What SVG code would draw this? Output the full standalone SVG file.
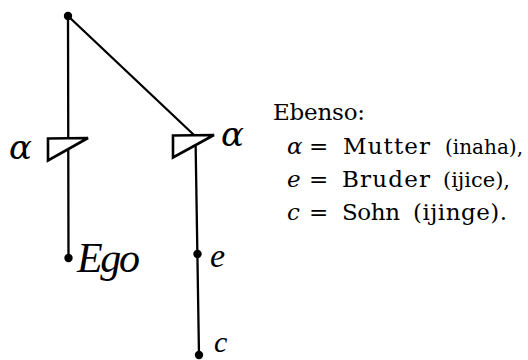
<svg xmlns="http://www.w3.org/2000/svg" width="528" height="360" viewBox="0 0 528 360">
<style>
.ln{stroke:#000;stroke-width:2.3;fill:none;stroke-linecap:round}
.flag{fill:#fff;stroke:#000;stroke-width:2.6;stroke-linejoin:miter}
.dot{fill:#000}
.sym{font-family:"DejaVu Serif","Liberation Serif",serif;font-style:italic;fill:#000}
.scr{font-family:"Liberation Serif","DejaVu Serif",serif;font-style:italic;fill:#000}
.txt{font-family:"DejaVu Serif","Liberation Serif",serif;font-size:23px;fill:#000}
.var{font-style:italic}
</style>
<rect width="528" height="360" fill="#fff"/>
<g id="connectors">
<line class="ln" x1="68" y1="16" x2="68.5" y2="258"/>
<line class="ln" x1="68" y1="16" x2="194" y2="135"/>
<line class="ln" x1="195.5" y1="137" x2="199" y2="355"/>
</g>
<g id="node-top"><circle class="dot" cx="68" cy="16" r="4.2"/></g>
<g id="node-mother-left">
<polygon class="flag" points="48,138.5 88,138 48,160.5"/>
<text class="sym" x="9" y="159" font-size="34">α</text>
</g>
<g id="node-mother-right">
<polygon class="flag" points="173,135.5 214,135 173,157.5"/>
<text class="sym" x="221" y="146" font-size="34">α</text>
</g>
<g id="node-ego">
<circle class="dot" cx="68.5" cy="258" r="4.2"/>
<text class="scr" x="77" y="272" font-size="42" textLength="63">Ego</text>
</g>
<g id="node-e">
<circle class="dot" cx="197.5" cy="254" r="4.2"/>
<text class="scr" x="210" y="267" font-size="34">e</text>
</g>
<g id="node-c">
<circle class="dot" cx="199" cy="355" r="4.2"/>
<text class="scr" x="214" y="352" font-size="30">c</text>
</g>
<g id="legend" class="txt">
<text x="273" y="120" textLength="92">Ebenso:</text>
<text class="var" x="287" y="154">α</text>
<text x="309" y="154">=</text>
<text x="343" y="154" textLength="87">Mutter</text>
<text x="445" y="154" font-size="20" textLength="78">(inaha),</text>
<text class="var" x="287" y="187">e</text>
<text x="309" y="187">=</text>
<text x="342" y="187" textLength="88">Bruder</text>
<text x="443" y="187" font-size="21" textLength="67">(ijice),</text>
<text class="var" x="287" y="220">c</text>
<text x="309" y="220">=</text>
<text x="342" y="220" textLength="58">Sohn</text>
<text x="413" y="220" textLength="94">(ijinge).</text>
</g>
</svg>
